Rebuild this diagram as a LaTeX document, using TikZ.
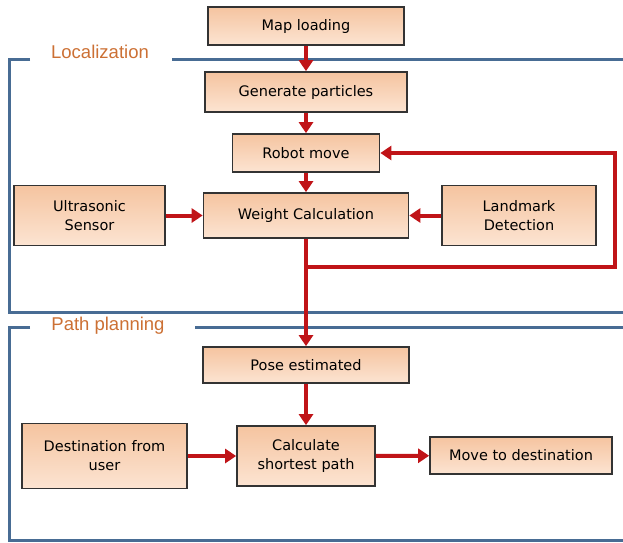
\documentclass[tikz,border=0pt]{standalone}
\usepackage{fontspec}
\setmainfont{DejaVu Sans}
\newfontfamily\labelfont{Liberation Sans}
\usetikzlibrary{arrows.meta}
\definecolor{peachtop}{RGB}{245, 196, 160}
\definecolor{peachbot}{RGB}{252, 228, 210}
\definecolor{flowred}{RGB}{192, 20, 24}
\definecolor{framblue}{RGB}{72, 108, 148}
\definecolor{titleorange}{RGB}{204, 112, 52}

\begin{document}
\begin{tikzpicture}[x=1pt, y=-1pt,
    stage/.style={draw=black!80, line width=1.7pt, top color=peachtop,
                  bottom color=peachbot, align=center,
                  font=\fontsize{14.5}{17}\selectfont, inner sep=0pt},
    flow/.style={draw=flowred, line width=4pt,
                 -{Triangle[length=11pt, width=14pt]}},
    feed/.style={draw=flowred, line width=4pt},
    frame/.style={draw=framblue, line width=3pt},
    frametitle/.style={text=titleorange,
                       font=\labelfont\fontsize{18.5}{22}\selectfont},
  ]
  \useasboundingbox (0,0) rectangle (623,542);

  % frames
  \draw[frame] (30,59) -- (9,59) -- (9,312) -- (623,312);
  \draw[frame] (172,59) -- (623,59);
  \node[frametitle] (loctitle) at (100,52) {Localization};
  \draw[frame] (30,327) -- (9,327) -- (9,540) -- (623,540);
  \draw[frame] (195,327) -- (623,327);
  \node[frametitle] (pathtitle) at (108,326) {Path planning};

  % localization
  \node[stage, minimum width=196pt, minimum height=38pt] (map) at (306,26) {Map loading};
  \node[stage, minimum width=202pt, minimum height=40pt] (gen) at (306,92) {Generate particles};
  \node[stage, minimum width=147pt, minimum height=38pt] (robot) at (306,153) {Robot move};
  \node[stage, minimum width=205pt, minimum height=45pt] (weight) at (306,215.5) {Weight Calculation};
  \node[stage, minimum width=151pt, minimum height=60pt] (ultra) at (89.5,215.5) {Ultrasonic\\[2pt] Sensor};
  \node[stage, minimum width=154pt, minimum height=60pt] (land) at (519,215.5) {Landmark\\[2pt] Detection};

  % path planning
  \node[stage, minimum width=206pt, minimum height=36pt] (pose) at (306,365) {Pose estimated};
  \node[stage, minimum width=138pt, minimum height=60pt] (calc) at (306,456) {Calculate\\[2pt] shortest path};
  \node[stage, minimum width=165pt, minimum height=65pt] (dest) at (104.5,456) {Destination from\\[2pt] user};
  \node[stage, minimum width=182pt, minimum height=37pt] (move) at (521,455.5) {Move to destination};

  \coordinate (split) at (306,267);
  \coordinate (loopse) at (615,267);
  \coordinate (loopne) at (615,153);

  \draw[flow] (map) -- (gen);
  \draw[flow] (gen) -- (robot);
  \draw[flow] (robot) -- (weight);
  \draw[flow] (ultra) -- (weight);
  \draw[flow] (land) -- (weight);
  \draw[feed] (weight) -- (split);
  \draw[flow] (split) -- (loopse) -- (loopne) -- (robot);
  \draw[flow] (split) -- (pose);
  \draw[flow] (pose) -- (calc);
  \draw[flow] (dest) -- (calc);
  \draw[flow] (calc) -- (move);
\end{tikzpicture}
\end{document}
